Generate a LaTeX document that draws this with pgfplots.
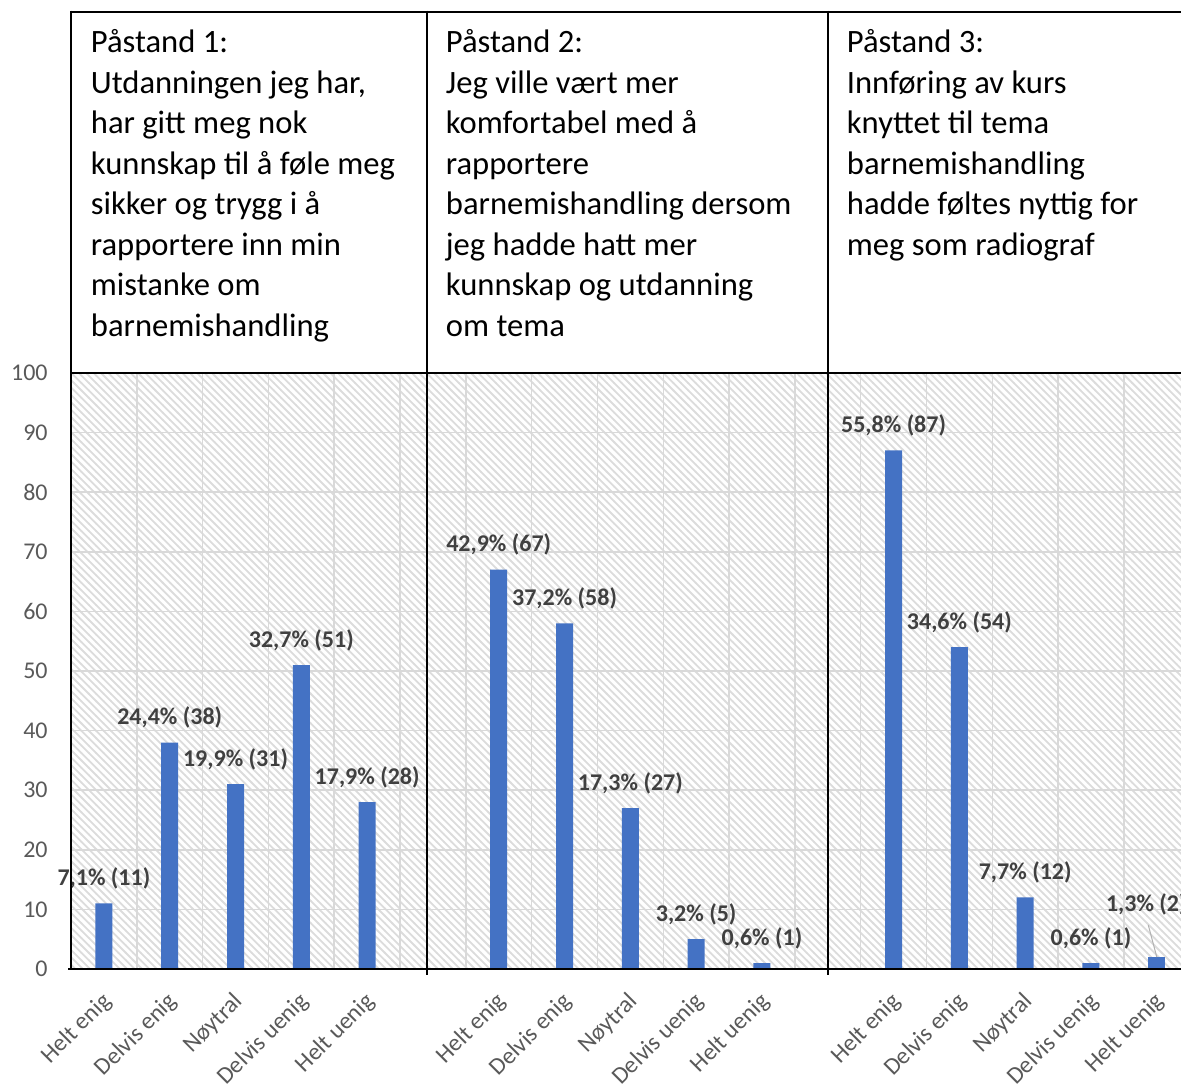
\documentclass[border=0pt]{standalone}
\usepackage{fontspec}
\setmainfont{Carlito}
\usepackage{pgfplots}
\pgfplotsset{compat=1.18}
\usetikzlibrary{patterns}
\pgfdeclarepatternformonly{mystripes}{\pgfqpoint{-1pt}{-1pt}}{\pgfqpoint{4.7pt}{4.7pt}}{\pgfqpoint{3.7pt}{3.7pt}}{%
  \pgfsetlinewidth{0.9pt}%
  \pgfpathmoveto{\pgfqpoint{-0.1pt}{3.8pt}}%
  \pgfpathlineto{\pgfqpoint{3.8pt}{-0.1pt}}%
  \pgfusepath{stroke}}
\definecolor{barblue}{HTML}{4472C4}
\definecolor{gridgray}{HTML}{D9D9D9}
\definecolor{stripegray}{HTML}{DCDCDC}
\definecolor{ticktext}{HTML}{595959}
\definecolor{labeltext}{HTML}{404040}
\begin{document}
\begin{tikzpicture}
\useasboundingbox (0,0) rectangle (590.5pt,543pt);
\begin{axis}[
  at={(35.5pt,58.5pt)}, anchor=south west,
  width=555pt, height=298pt, scale only axis,
  xmin=-0.5, xmax=16.368, ymin=0, ymax=100,
  axis line style={draw=none},
  axis background/.style={fill=white, postaction={pattern=mystripes, pattern color=stripegray}},
  ytick={0,10,...,100},
  xtick={0,1,2,3,4,6,7,8,9,10,12,13,14,15,16},
  xticklabels={Helt enig, Delvis enig, Nøytral, Delvis uenig, Helt uenig, Helt enig, Delvis enig, Nøytral, Delvis uenig, Helt uenig, Helt enig, Delvis enig, Nøytral, Delvis uenig, Helt uenig},
  minor xtick={0.5,1.5,...,15.5},
  ymajorgrids, xminorgrids,
  major grid style={gridgray, line width=0.75pt},
  minor grid style={gridgray, line width=0.75pt},
  major tick length=0pt, minor tick length=0pt,
  tick label style={font=\fontsize{12}{14}\selectfont, text=ticktext},
  /pgf/number format/assume math mode=true,
  yticklabel style={anchor=east, inner sep=0pt, xshift=-11.5pt},
  xticklabel style={inner sep=0pt, yshift=-14.5pt, xshift=2pt, rotate=45, anchor=east},
  ybar, bar width=8.5pt,
  point meta=explicit symbolic,
  nodes near coords,
  nodes near coords style={font=\bfseries\fontsize{12}{14}\selectfont, text=labeltext, anchor=center, yshift=12.5pt},
  clip=false,
]
\addplot[fill=barblue, draw=none, bar shift=0pt] coordinates {
  (0,11) [7,1\% (11)]
  (1,38) [24,4\% (38)]
  (2,31) [19,9\% (31)]
  (3,51) [32,7\% (51)]
  (4,28) [17,9\% (28)]
  (6,67) [42,9\% (67)]
  (7,58) [37,2\% (58)]
  (8,27) [17,3\% (27)]
  (9,5) [3,2\% (5)]
  (10,1) [0,6\% (1)]
  (12,87) [55,8\% (87)]
  (13,54) [34,6\% (54)]
  (14,12) [7,7\% (12)]
  (15,1) [0,6\% (1)]
};
\addplot[fill=barblue, draw=none, bar shift=0pt, nodes near coords style={yshift=14pt, xshift=-5.25pt}] coordinates {
  (16,2) [1,3\% (2)]
};
\draw[gray!60, line width=0.5pt] (axis cs:16,2) -- (axis cs:15.87,7.4);
\end{axis}
% x axis line
\draw[black, line width=1pt] (34pt,58.5pt) -- (600pt,58.5pt);
% header frame and panel borders
\draw[black, line width=1.4pt] (35.5pt,537pt) -- (600pt,537pt);
\draw[black, line width=1.4pt] (35.5pt,356.5pt) -- (600pt,356.5pt);
\draw[black, line width=1pt] (35.5pt,537.7pt) -- (35.5pt,58.5pt);
\draw[black, line width=1pt] (213.5pt,537.7pt) -- (213.5pt,55.5pt);
\draw[black, line width=1pt] (414pt,537.7pt) -- (414pt,55.5pt);
\node[anchor=base west, inner sep=0pt, font=\fontsize{16.3}{20.25}\selectfont] at (45.25pt,516.5pt) {\begin{tabular}[t]{@{}l@{}}Påstand 1:\\ Utdanningen jeg har,\\ har gitt meg nok\\ kunnskap til å føle meg\\ sikker og trygg i å\\ rapportere inn min\\ mistanke om\\ barnemishandling\end{tabular}};
\node[anchor=base west, inner sep=0pt, font=\fontsize{16.3}{20.25}\selectfont] at (222.75pt,516.5pt) {\begin{tabular}[t]{@{}l@{}}Påstand 2:\\ Jeg ville vært mer\\ komfortabel med å\\ rapportere\\ barnemishandling dersom\\ jeg hadde hatt mer\\ kunnskap og utdanning\\ om tema\end{tabular}};
\node[anchor=base west, inner sep=0pt, font=\fontsize{16.3}{20.25}\selectfont] at (423.25pt,516.5pt) {\begin{tabular}[t]{@{}l@{}}Påstand 3:\\ Innføring av kurs\\ knyttet til tema\\ barnemishandling\\ hadde føltes nyttig for\\ meg som radiograf\end{tabular}};
\end{tikzpicture}
\end{document}
